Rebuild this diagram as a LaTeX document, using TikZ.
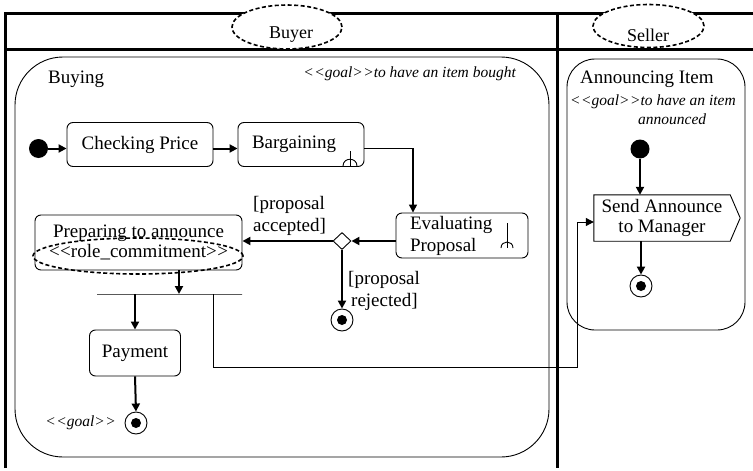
\documentclass[tikz,border=0pt]{standalone}
\usepackage{fontspec}
\setmainfont{Liberation Serif}
\usetikzlibrary{arrows.meta,shapes.geometric,calc}
% keep the angle brackets from turning into guillemets
\newcommand{\stl}{<\kern0.5pt<}
\newcommand{\str}{>\kern0.5pt>}

\begin{document}
\begin{tikzpicture}[x=1pt,y=-1pt,
  txt/.style={font=\fontsize{19}{21}\selectfont, inner sep=0pt},
  note/.style={font=\fontsize{15.5}{17}\selectfont\itshape, inner sep=0pt},
  act/.style={draw, line width=0.9pt, rounded corners=6pt, inner sep=0pt,
    font=\fontsize{19}{21}\selectfont},
  flow/.style={line width=2pt, -{Triangle[length=8pt,width=8pt]}},
  thinflow/.style={line width=1pt, -{Triangle[length=8pt,width=8pt]}},
  lane/.style={line width=3pt},
  region/.style={draw, line width=0.9pt},
  rolename/.style={ellipse, draw, fill=white, dash pattern=on 4pt off 2.5pt,
    line width=1.6pt, inner sep=0pt},
  startdot/.style={circle, fill=black, minimum size=19pt, inner sep=0pt},
  enddot/.style={circle, draw, line width=0.9pt, minimum size=22pt, inner sep=0pt,
    path picture={\fill (path picture bounding box.center) circle (5pt);}},
  forksign/.style={line width=0.9pt},
]
\useasboundingbox (0,0) rectangle (753,471);

% swimlane frame
\draw[lane] (5,468) -- (5,13) -- (753,13);
\draw[lane] (5,49) -- (753,49);
\draw[lane] (557,13) -- (557,468);

% lane names
\node[rolename, minimum width=110pt, minimum height=44pt] (buyerell) at (287,27) {};
\node[txt, font=\fontsize{18}{20}\selectfont] (buyer) at (291,35) {Buyer};
\node[rolename, minimum width=111pt, minimum height=43pt] (sellerell) at (648.5,26) {};
\node[txt, font=\fontsize{18}{20}\selectfont] (seller) at (648,35) {Seller};

% composite activity: Buying
\draw[region, rounded corners=48pt] (15,57) rectangle (549,457);
\node[txt, anchor=west] (buying) at (48,79) {Buying};
\node[note, anchor=east] (buygoal) at (516,74) {\stl goal\str to have an item bought};

% composite activity: Announcing Item
\draw[region, rounded corners=28pt] (567,59) rectangle (745,330);
\node[txt, anchor=west] (annitem) at (580,79) {Announcing Item};
\node[note, anchor=west] (anngoal1) at (570,102) {\stl goal\str to have an item};
\node[note, anchor=west] (anngoal2) at (638,119) {announced};

% Buying actions
\node[startdot] (start1) at (38.5,148.5) {};
\node[act, minimum width=146pt, minimum height=44pt] (check) at (140,144.5) {Checking Price};
\node[act, minimum width=126pt, minimum height=44pt, text width=98pt, align=left]
  (barg) at (301,144.5) {Bargaining};
\draw[forksign] (350,151) -- (350,166);
\draw[forksign] (343,166) .. controls (343,157) and (357,157) .. (357,166);

\node[act, minimum width=132pt, minimum height=45pt, text width=104pt, align=left]
  (eval) at (462,235.5) {Evaluating\\[1pt]Proposal};
\draw[forksign] (507,223) -- (507,248);
\draw[forksign] (501,248) .. controls (501,240) and (513,240) .. (513,248);

\node[diamond, draw, line width=0.9pt, fill=white, minimum width=18pt, minimum height=17pt,
  inner sep=0pt] (dec) at (342,241) {};
\node[enddot] (end1) at (342,320) {};

\node[act, minimum width=207pt, minimum height=55pt, align=center,
  font=\fontsize{19}{20}\selectfont] (prep) at (138.5,242.5)
  {Preparing to announce\\\stl role\_commitment\str};
\node[ellipse, draw, dash pattern=on 4pt off 2.5pt, line width=1.6pt,
  minimum width=210pt, minimum height=36pt, inner sep=0pt] (commit) at (138,256) {};

% fork bar
\node[draw, line width=1pt, minimum width=145pt, minimum height=0pt, inner sep=0pt]
  (bar) at (169.5,294) {};
\coordinate (forkin) at (179,294);
\coordinate (forkout1) at (135,294);
\coordinate (forkout2) at (213,294);
\coordinate (jog) at (577,367);

\node[act, minimum width=91pt, minimum height=46pt] (pay) at (135,353) {Payment};
\node[enddot] (end3) at (136,423) {};
\node[note, anchor=east] (paygoal) at (116,423) {\stl goal\str};

% Announcing actions
\node[startdot] (start2) at (640,149) {};
\node[inner sep=0pt, minimum width=136pt, minimum height=46pt, align=center,
  font=\fontsize{19}{20}\selectfont] (send) at (662,218) {Send Announce\\to Manager};
\draw[line width=0.9pt] (send.north west) -- (send.north east) -- ($(send.east)+(10,0)$)
  -- (send.south east) -- (send.south west) -- cycle;
\node[enddot] (end2) at (641,286) {};

% transitions
\draw[flow] (start1.east) -- (check.west |- start1);
\draw[flow] ([yshift=-4pt]check.east) -- ([yshift=-4pt]barg.west);
\draw[line width=1.3pt, -{Triangle[length=8pt,width=8pt]}]
  ([yshift=-4pt]barg.east) -| ([xshift=-49pt]eval.north);
\draw[flow] (eval.west |- dec) -- (dec.east);
\draw[flow] (dec.west) -- (prep.east |- dec);
\draw[flow] (dec.south) -- (end1.north);
\node[txt, anchor=north west, align=left, font=\fontsize{19}{22}\selectfont]
  (acclbl) at (253,196) {[proposal\\accepted]};
\node[txt, anchor=north west, align=left, font=\fontsize{19}{22}\selectfont]
  (rejlbl) at (348,271) {[proposal\\\hspace*{3pt}rejected]};
\draw[flow] (prep.south -| forkin) -- (forkin);
\draw[flow] (forkout1) -- (pay.north);
\draw[flow] (pay.south) -- (end3.north);
\draw[thinflow] (forkout2) |- (jog) |- ([yshift=-4pt]send.west);
\draw[flow] (start2) -- (send.north -| start2);
\draw[flow] (send.south -| end2) -- (end2.north);
\end{tikzpicture}
\end{document}
